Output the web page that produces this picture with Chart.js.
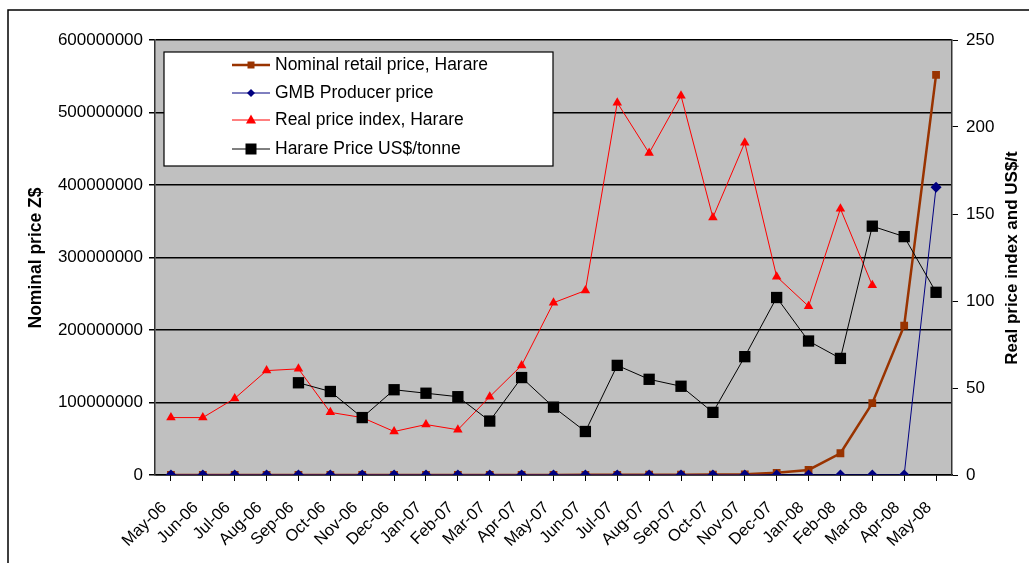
<!DOCTYPE html>
<html>
<head>
<meta charset="utf-8">
<script src="https://cdn.jsdelivr.net/npm/chart.js@4.4.0/dist/chart.umd.min.js"></script>
<style>
body { margin: 0; background: #fff; }
#wrap { width: 1029px; height: 563px; }
</style>
</head>
<body>
<div id="wrap"><canvas id="priceChart" width="1029" height="563"></canvas></div>
<script>
var months = ['May-06', 'Jun-06', 'Jul-06', 'Aug-06', 'Sep-06', 'Oct-06', 'Nov-06', 'Dec-06',
  'Jan-07', 'Feb-07', 'Mar-07', 'Apr-07', 'May-07', 'Jun-07', 'Jul-07', 'Aug-07', 'Sep-07',
  'Oct-07', 'Nov-07', 'Dec-07', 'Jan-08', 'Feb-08', 'Mar-08', 'Apr-08', 'May-08'];

// left axis, Z$
var nominalRetail = [20000, 22000, 25000, 30000, 35000, 40000, 45000, 50000, 60000, 70000,
  90000, 110000, 150000, 200000, 300000, 400000, 500000, 600000, 1000000, 3000000,
  7000000, 30000000, 99000000, 206000000, 552000000];
var gmbProducer = [10000, 10000, 10000, 12000, 12000, 12000, 15000, 15000, 15000, 20000,
  20000, 20000, 25000, 25000, 25000, 30000, 30000, 30000, 40000, 40000,
  40000, 50000, 50000, 60000, 397000000];

// right axis
var realIndex = [33, 33, 44, 60, 61, 36, 33, 25, 29, 26, 45, 63, 99, 106, 214, 185, 218,
  148, 191, 114, 97, 153, 109, null, null];
var hararePrice = [null, null, null, null, 53, 48, 33, 49, 47, 45, 31, 56, 39, 25, 63, 55, 51,
  36, 68, 102, 77, 67, 143, 137, 105];

var leftTicks = [0, 100000000, 200000000, 300000000, 400000000, 500000000, 600000000];
var rightTicks = [0, 50, 100, 150, 200, 250];

var FONT = '"Liberation Sans", Arial, sans-serif';
var BROWN = '#993300', NAVY = '#000080', RED = '#ff0000', BLACK = '#000000';

var legendItems = [
  { text: 'Nominal retail price, Harare', color: BROWN, width: 2.5, shape: 'rect', r: 3.5 },
  { text: 'GMB Producer price', color: NAVY, width: 1, shape: 'rectRot', r: 4 },
  { text: 'Real price index, Harare', color: RED, width: 1, shape: 'triangle', r: 5 },
  { text: 'Harare Price US$/tonne', color: BLACK, width: 1, shape: 'rect', r: 5.5 }
];

function marker(ctx, shape, x, y, r, color) {
  ctx.fillStyle = color;
  ctx.beginPath();
  if (shape === 'rect') {
    ctx.rect(x - r, y - r, 2 * r, 2 * r);
  } else if (shape === 'rectRot') {
    ctx.moveTo(x, y - r); ctx.lineTo(x + r, y); ctx.lineTo(x, y + r); ctx.lineTo(x - r, y);
  } else {
    ctx.moveTo(x, y - r * 1.1); ctx.lineTo(x + r, y + r * 0.7); ctx.lineTo(x - r, y + r * 0.7);
  }
  ctx.closePath();
  ctx.fill();
}

var decor = {
  id: 'decor',
  beforeDraw: function (chart) {
    var ctx = chart.ctx, a = chart.chartArea;
    ctx.save();
    ctx.fillStyle = '#ffffff';
    ctx.fillRect(0, 0, chart.width, chart.height);
    ctx.fillStyle = '#c0c0c0';
    ctx.fillRect(a.left, a.top, a.right - a.left, a.bottom - a.top);
    // outer frame
    ctx.strokeStyle = '#000';
    ctx.lineWidth = 1.5;
    ctx.beginPath();
    ctx.moveTo(8, 563); ctx.lineTo(8, 10); ctx.lineTo(1029, 10);
    ctx.stroke();
    ctx.restore();
  },
  afterDraw: function (chart) {
    var ctx = chart.ctx;
    ctx.save();
    // axis titles
    ctx.fillStyle = '#000';
    ctx.textAlign = 'center';
    ctx.textBaseline = 'middle';
    ctx.save();
    ctx.font = 'bold 17.5px ' + FONT;
    ctx.translate(36, 258); ctx.rotate(-Math.PI / 2);
    ctx.fillText('Nominal price Z$', 0, 0);
    ctx.restore();
    ctx.save();
    ctx.font = 'bold 17px ' + FONT;
    ctx.translate(1012, 258); ctx.rotate(-Math.PI / 2);
    ctx.fillText('Real price index and US$/t', 0, 0);
    ctx.restore();

    // legend box
    ctx.fillStyle = '#fff';
    ctx.fillRect(164, 52, 389, 114);
    ctx.strokeStyle = '#000';
    ctx.lineWidth = 1.2;
    ctx.strokeRect(164, 52, 389, 114);
    ctx.font = '17.5px ' + FONT;
    ctx.textAlign = 'left';
    var rows = [65, 93, 120, 149];
    legendItems.forEach(function (it, i) {
      var y = rows[i];
      ctx.strokeStyle = it.color;
      ctx.lineWidth = it.width;
      ctx.beginPath(); ctx.moveTo(232, y); ctx.lineTo(270, y); ctx.stroke();
      marker(ctx, it.shape, 251, y, it.r, it.color);
      ctx.fillStyle = '#000';
      ctx.fillText(it.text, 275, y);
    });
    ctx.restore();
  }
};

var ctx = document.getElementById('priceChart').getContext('2d');

var priceChart = new Chart(ctx, {
  type: 'line',
  data: {
    labels: months,
    datasets: [
      {
        label: 'Harare Price US$/tonne', data: hararePrice, yAxisID: 'yRight',
        borderColor: BLACK, backgroundColor: BLACK, borderWidth: 1,
        pointStyle: 'rect', pointRadius: 8, pointBorderWidth: 0
      },
      {
        label: 'Real price index, Harare', data: realIndex, yAxisID: 'yRight',
        borderColor: RED, backgroundColor: RED, borderWidth: 1,
        pointStyle: 'triangle', pointRadius: 5.5, pointBorderWidth: 0
      },
      {
        label: 'GMB Producer price', data: gmbProducer, yAxisID: 'yLeft',
        borderColor: NAVY, backgroundColor: NAVY, borderWidth: 1,
        pointStyle: 'rectRot', pointRadius: 5.5, pointBorderWidth: 0
      },
      {
        label: 'Nominal retail price, Harare', data: nominalRetail, yAxisID: 'yLeft',
        borderColor: BROWN, backgroundColor: BROWN, borderWidth: 2.5,
        pointStyle: 'rect', pointRadius: 5.5, pointBorderWidth: 0
      }
    ]
  },
  options: {
    responsive: false,
    animation: false,
    layout: { padding: { top: 40, left: 0, right: 0, bottom: 0 } },
    plugins: { legend: { display: false }, tooltip: { enabled: false } },
    scales: {
      x: {
        offset: true,
        grid: { drawOnChartArea: false, drawTicks: true, tickLength: 6, color: '#000' },
        border: { display: true, color: '#000', width: 1.5 },
        ticks: {
          autoSkip: false, minRotation: 45, maxRotation: 45, padding: 17, labelOffset: -7,
          color: '#000', font: { family: FONT, size: 16.5 }
        },
        afterFit: function (s) { s.height = 88; }
      },
      yLeft: {
        position: 'left', min: 0, max: 600000000,
        afterBuildTicks: function (s) { s.ticks = leftTicks.map(function (v) { return { value: v }; }); },
        grid: { color: '#000', lineWidth: 1.5, tickLength: 6 },
        border: { display: true, color: '#333', width: 1.5 },
        ticks: {
          padding: 6, color: '#000', font: { family: FONT, size: 17 },
          callback: function (v) { return String(v); }
        },
        afterFit: function (s) { s.width = 155; }
      },
      yRight: {
        position: 'right', min: 0, max: 250,
        afterBuildTicks: function (s) { s.ticks = rightTicks.map(function (v) { return { value: v }; }); },
        grid: { drawOnChartArea: false, color: '#000', tickLength: 6 },
        border: { display: true, color: '#333', width: 1.5 },
        ticks: { padding: 8, color: '#000', font: { family: FONT, size: 17 } },
        afterFit: function (s) { s.width = 77; }
      }
    }
  },
  plugins: [decor]
});
</script>
</body>
</html>
